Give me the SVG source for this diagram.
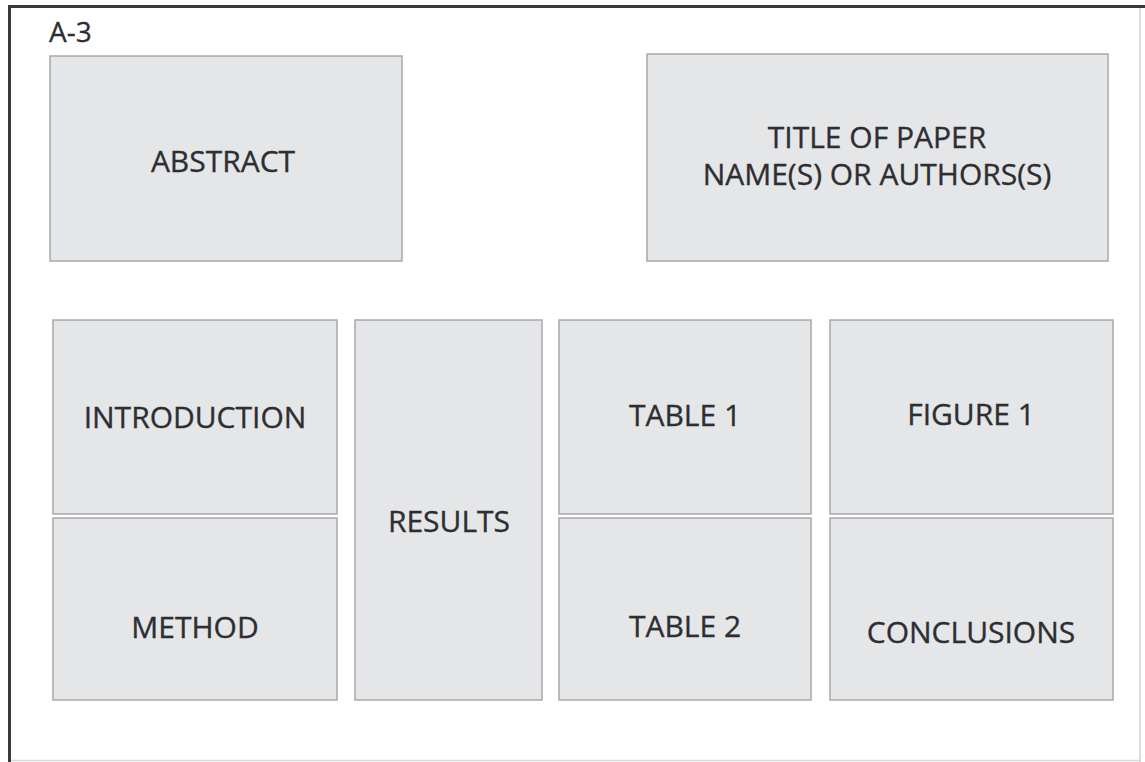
<svg xmlns="http://www.w3.org/2000/svg" width="1145" height="762" viewBox="0 0 1145 762">
<style>
.box{fill:#e5e6e8;stroke:#a6a8ab;stroke-width:1.5}
.t{font-family:"Open Sans","Noto Sans",sans-serif;font-size:30px;fill:#2d2e32;stroke:#2d2e32;stroke-width:0.35;text-anchor:middle}
</style>
<rect x="0" y="0" width="1145" height="762" fill="#ffffff"/>
<g id="frame">
<line x1="9.5" y1="5" x2="9.5" y2="762" stroke="#3a3a3c" stroke-width="3"/>
<line x1="8" y1="6.5" x2="1145" y2="6.5" stroke="#3a3a3c" stroke-width="3"/>
<line x1="1140" y1="8" x2="1140" y2="762" stroke="#d0d0d2" stroke-width="1.5"/>
<line x1="11" y1="760.5" x2="1140" y2="760.5" stroke="#d8d8da" stroke-width="1.5"/>
<text x="49" y="42" style="font-family:'Open Sans','Noto Sans',sans-serif;font-size:28px;fill:#2d2e32;stroke:#2d2e32;stroke-width:0.3">A-3</text>
</g>
<g id="abstract"><rect class="box" x="50" y="56" width="352" height="205"/><text class="t" x="223" y="172">ABSTRACT</text></g>
<g id="title"><rect class="box" x="647" y="54" width="461" height="207"/><text class="t" x="877" y="148">TITLE OF PAPER</text><text class="t" x="877" y="185">NAME(S) OR AUTHORS(S)</text></g>
<g id="introduction"><rect class="box" x="53" y="320" width="284" height="194"/><text class="t" x="195" y="428">INTRODUCTION</text></g>
<g id="method"><rect class="box" x="53" y="518" width="284" height="182"/><text class="t" x="195" y="638">METHOD</text></g>
<g id="results"><rect class="box" x="355" y="320" width="187" height="380"/><text class="t" x="449" y="532">RESULTS</text></g>
<g id="table1"><rect class="box" x="559" y="320" width="252" height="194"/><text class="t" x="685" y="426">TABLE 1</text></g>
<g id="table2"><rect class="box" x="559" y="518" width="252" height="182"/><text class="t" x="685" y="637">TABLE 2</text></g>
<g id="figure1"><rect class="box" x="830" y="320" width="283" height="194"/><text class="t" x="971" y="425">FIGURE 1</text></g>
<g id="conclusions"><rect class="box" x="830" y="518" width="283" height="182"/><text class="t" x="971" y="643">CONCLUSIONS</text></g>
<g id="connectors"></g>
</svg>
